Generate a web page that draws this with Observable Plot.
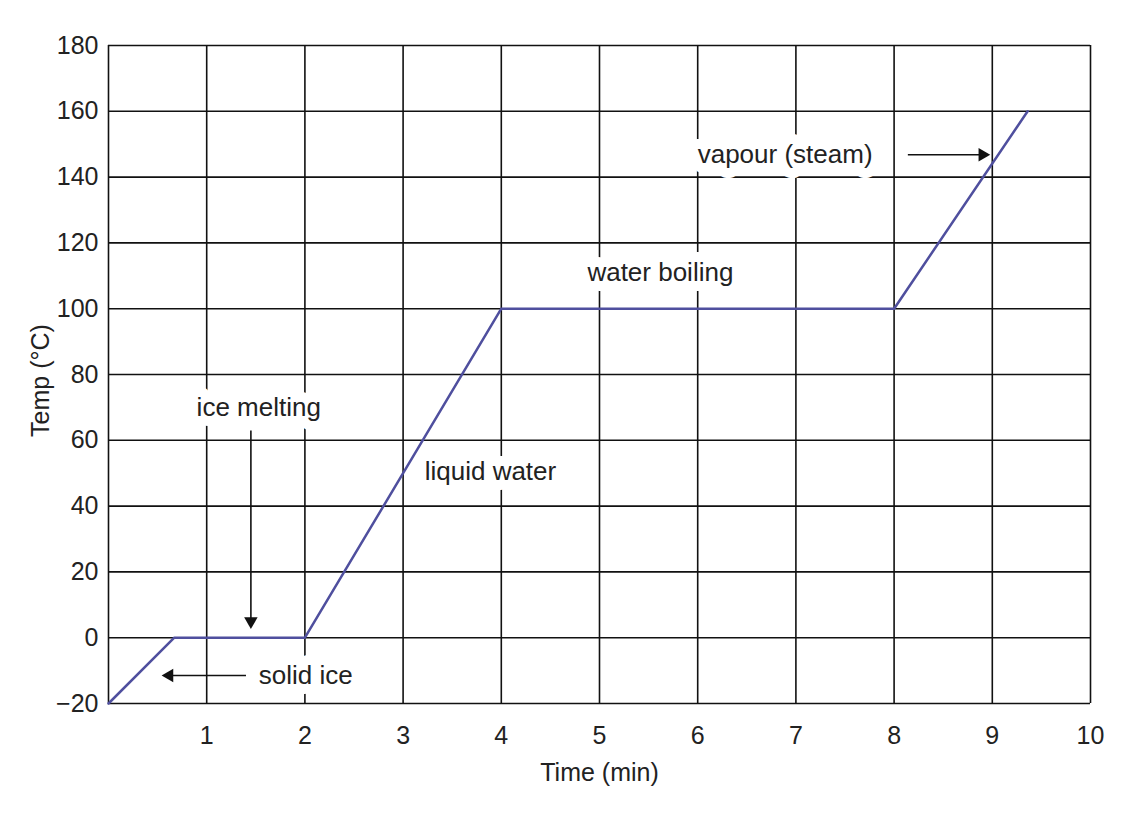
<!DOCTYPE html>
<html>
<head>
<meta charset="utf-8">
<script src="https://cdn.jsdelivr.net/npm/d3@7"></script>
<script src="https://cdn.jsdelivr.net/npm/@observablehq/plot@0.6"></script>
<style>
  body { margin: 0; background: #fff; }
  #chart svg { font-family: "Liberation Sans", Arial, sans-serif; }
</style>
</head>
<body>
<div id="chart"></div>
<script>
// Heating curve data (time in min, temp in °C)
const timeMin = [0, 0.67, 2, 4, 8, 9.36];
const tempC = [-20, 0, 0, 100, 100, 160];

const xGrid = [0, 1, 2, 3, 4, 5, 6, 7, 8, 9, 10];
const xTickLabels = [1, 2, 3, 4, 5, 6, 7, 8, 9, 10];
const yGrid = [-20, 0, 20, 40, 60, 80, 100, 120, 140, 160, 180];

// centred annotations
const midText = ["ice melting", "water boiling"];
const midX = [1.53, 5.62];
const midY = [70, 111];
// left-aligned annotations
const startText = ["solid ice", "liquid water", "vapour (steam)"];
const startX = [1.53, 3.22, 6.0];
const startY = [-11.5, 50.5, 146.8];

// arrows: start -> end
const arrowX1 = [1.45, 1.4, 8.14];
const arrowY1 = [63, -11.5, 146.8];
const arrowX2 = [1.45, 0.62, 8.9];
const arrowY2 = [5, -11.5, 146.8];
const arrowRotate = [180, -90, 90];

const line = timeMin.map((t, i) => ({t, v: tempC[i]}));
const mids = midText.map((s, i) => ({s, x: midX[i], y: midY[i]}));
const starts = startText.map((s, i) => ({s, x: startX[i], y: startY[i]}));
const arrows = arrowX1.map((x1, i) => ({x1, y1: arrowY1[i], x2: arrowX2[i], y2: arrowY2[i], r: arrowRotate[i]}));

const labelFont = 26;
const halo = {fill: "white", stroke: "white", strokeWidth: 20, fontSize: labelFont};
const ink = {fill: "#222", fontSize: labelFont};

const chart = Plot.plot({
  width: 1146,
  height: 828,
  marginLeft: 108,
  marginRight: 56,
  marginTop: 45,
  marginBottom: 125,
  style: {fontSize: "25px", color: "#222", background: "white"},
  x: {domain: [0, 10]},
  y: {domain: [-20, 180]},
  marks: [
    Plot.ruleX(xGrid, {stroke: "#111", strokeWidth: 1.6}),
    Plot.ruleY(yGrid, {stroke: "#111", strokeWidth: 1.6}),
    Plot.text(mids, {x: "x", y: "y", text: "s", textAnchor: "middle", ...halo}),
    Plot.text(starts, {x: "x", y: "y", text: "s", textAnchor: "start", ...halo}),
    Plot.text(mids, {x: "x", y: "y", text: "s", textAnchor: "middle", ...ink}),
    Plot.text(starts, {x: "x", y: "y", text: "s", textAnchor: "start", ...ink}),
    Plot.line(line, {x: "t", y: "v", stroke: "#4f4f9e", strokeWidth: 2.5}),
    Plot.link(arrows, {x1: "x1", y1: "y1", x2: "x2", y2: "y2", stroke: "#111", strokeWidth: 1.6}),
    Plot.dot(arrows, {x: "x2", y: "y2", symbol: "triangle", rotate: "r", r: 5, fill: "#111", stroke: null}),
    Plot.axisX(xTickLabels, {tickSize: 0, tickPadding: 23, label: null, fontSize: 25}),
    Plot.axisY(yGrid, {tickSize: 0, tickPadding: 10, label: null, fontSize: 25}),
    Plot.text(["Time (min)"], {frameAnchor: "bottom", dy: 77, fontSize: 25, fill: "#222"}),
    Plot.text(["Temp (°C)"], {frameAnchor: "left", textAnchor: "middle", lineAnchor: "middle", dx: -68, dy: 6, rotate: -90, fontSize: 25, fill: "#222"})
  ]
});
document.getElementById("chart").append(chart);
</script>
</body>
</html>
